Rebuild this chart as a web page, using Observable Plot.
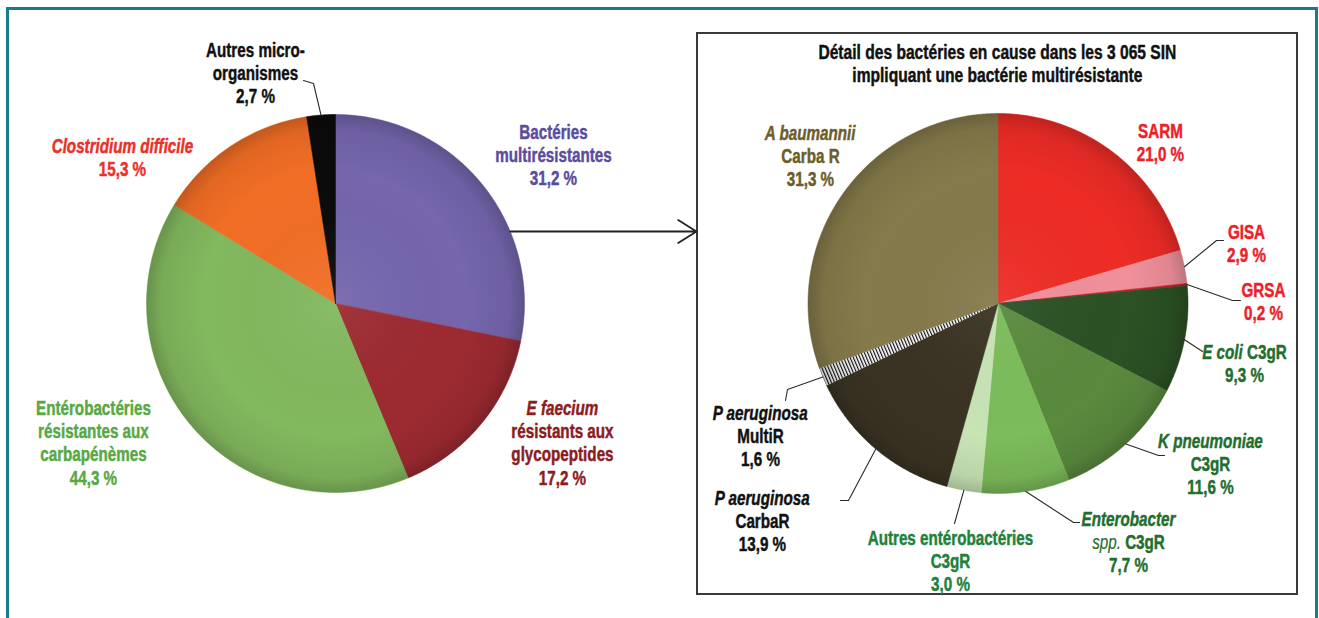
<!DOCTYPE html>
<html><head><meta charset="utf-8">
<script src="https://cdn.jsdelivr.net/npm/d3@7"></script>
<script src="https://cdn.jsdelivr.net/npm/@observablehq/plot@0.6"></script>
<style>
html,body{margin:0;padding:0;background:#fff;overflow:hidden;}
#wrap{position:relative;width:1319px;height:618px;overflow:hidden;}
#outer{position:absolute;left:6px;top:7px;width:1312px;height:700px;border:3px solid #1a7a8c;box-sizing:border-box;}
#box{position:absolute;left:696px;top:32px;width:602px;height:563px;border:2px solid #3a3a3a;box-sizing:border-box;}
#wrap svg{position:absolute;left:0;top:0;}
</style></head><body><div id="wrap"><div id="outer"></div><div id="box"></div></div>
<script>
// ---------- DATA ----------
const leftCategories = ["Bactéries multirésistantes", "E faecium résistants aux glycopeptides", "Entérobactéries résistantes aux carbapénèmes", "Clostridium difficile", "Autres micro-organismes"];
const leftValues = [31.2, 17.2, 44.3, 15.3, 2.7];
const leftColors = ["#7566ad", "#9d2a31", "#82b85e", "#f26e25", "#0b0b0b"];
const leftLabelColors = ["#5a4c9f", "#8c1b22", "#57a845", "#ec2f27", "#111111"];
const leftLabelLines = [["Bactéries", "multirésistantes"], ["*E faecium*", "résistants aux", "glycopeptides"], ["Entérobactéries", "résistantes aux", "carbapénèmes"], ["*Clostridium difficile*"], ["Autres micro-", "organismes"]];

const rightCategories = ["SARM", "GISA", "GRSA", "E coli C3gR", "K pneumoniae C3gR", "Enterobacter spp. C3gR", "Autres entérobactéries C3gR", "P aeruginosa CarbaR", "P aeruginosa MultiR", "A baumannii Carba R"];
const rightValues = [21.0, 2.9, 0.2, 9.3, 11.6, 7.7, 3.0, 13.9, 1.6, 31.3];
const rightColors = ["#ee2c26", "#f0909b", "#c2202b", "#2b5124", "#5a8a3e", "#7cbc5a", "#c8e4b5", "#3a3323", "url(#hatch)", "#857a4b"];
const rightLabelColors = ["#ec2028", "#ec2028", "#ec2028", "#1f6e2e", "#1f6e2e", "#1f6e2e", "#22803a", "#111111", "#111111", "#6b5e29"];
const rightLabelLines = [["SARM"], ["GISA"], ["GRSA"], ["*E coli* C3gR"], ["*K pneumoniae*", "C3gR"], ["*Enterobacter*", "_spp._ C3gR"], ["Autres entérobactéries", "C3gR"], ["*P aeruginosa*", "CarbaR"], ["*P aeruginosa*", "MultiR"], ["*A baumannii*", "Carba R"]];
const titleLines = ["Détail des bactéries en cause dans les 3 065 SIN", "impliquant une bactérie multirésistante"];

// ---------- LAYOUT ----------
const W = 1319, H = 618;
const PIE_L = {cx: 335, cy: 303, r: 189};
const PIE_R = {cx: 997.5, cy: 303, r: 190};
const leftLabelPos = [[553, 132], [562, 408], [93, 408], [122, 146], [255, 50]];
const rightLabelPos = [[1160, 131], [1246, 232], [1263, 290], [1244, 352], [1210, 441], [1128, 519], [950, 538], [762, 498], [760, 413], [810, 133]];
const titlePos = [997, 52];
const leftLeaders = [{slice: 4, pts: [[313, 83], [303, 80]]}];
const rightLeaders = [
  {slice: 1, pts: [[1216, 240], [1223, 240]]},
  {slice: 2, pts: [[1232, 300], [1240, 300]]},
  {slice: 3, pts: [[1202, 351]]},
  {slice: 4, pts: [[1158, 455], [1164, 455]]},
  {slice: 5, pts: [[1073, 522], [1079, 522]]},
  {slice: 6, pts: [[954, 523]]},
  {slice: 7, pts: [[848, 500], [840, 500]]},
  {slice: 8, pts: [[787, 389], [785, 400]]}
];
const ARROW_Y = 231, BOX_LEFT = 696;
const LH = 23.3, FS = 19.5, TFS = 20, SX = 0.78;
const FONT = "'Liberation Sans',Arial,sans-serif";

// ---------- HELPERS ----------
const fmtPct = v => d3.format(".1f")(v).replace(".", ",") + " %";
const ctx = document.createElement("canvas").getContext("2d");
function measure(t, style, size) {
  const st = style === "n" ? "normal 700" : style === "i" ? "italic 700" : "italic 400";
  ctx.font = `${st} ${size}px ${FONT}`;
  return ctx.measureText(t).width * SX;
}
function wedges(pie, vals, cols, key) {
  const total = d3.sum(vals);
  let acc = 0; const rows = [], mids = [];
  vals.forEach((v, i) => {
    const a0 = acc / total * 2 * Math.PI; acc += v; const a1 = acc / total * 2 * Math.PI;
    mids.push((a0 + a1) / 2);
    const n = Math.max(2, Math.ceil((a1 - a0) / (Math.PI / 360)));
    const id = key + i;
    rows.push({id, x: pie.cx, y: pie.cy, fill: cols[i]});
    for (let k = 0; k <= n; k++) {
      const a = a0 + (a1 - a0) * k / n;
      rows.push({id, x: pie.cx + pie.r * Math.sin(a), y: pie.cy - pie.r * Math.cos(a), fill: cols[i]});
    }
    rows.push({id, x: pie.cx, y: pie.cy, fill: cols[i]});
  });
  return {rows, mids};
}
function layoutLines(lines, cx, y0, color, size, out) {
  lines.forEach((line, j) => {
    const y = y0 + j * LH;
    const toks = line.split(/(\*[^*]+\*|_[^_]+_)/).filter(s => s.length);
    const segs = toks.map(t => t.startsWith("*") ? {t: t.slice(1, -1), s: "i"} : t.startsWith("_") ? {t: t.slice(1, -1), s: "l"} : {t, s: "n"});
    const total = d3.sum(segs, g => measure(g.t, g.s, size));
    let x = cx - total / 2;
    segs.forEach(g => {
      const lead = g.t.match(/^\s*/)[0];
      out.push({x: x + measure(lead, g.s, size), y, text: g.t.trim(), s: g.s, fill: color, size});
      x += measure(g.t, g.s, size);
    });
  });
}
function leaders(pie, mids, defs, key) {
  const rows = [];
  defs.forEach((d, i) => {
    const a = mids[d.slice];
    rows.push({id: key + i, x: pie.cx + pie.r * Math.sin(a), y: pie.cy - pie.r * Math.cos(a)});
    d.pts.forEach(p => rows.push({id: key + i, x: p[0], y: p[1]}));
  });
  return rows;
}

// ---------- BUILD ----------
const WL = wedges(PIE_L, leftValues, leftColors, "L");
const WR = wedges(PIE_R, rightValues, rightColors, "R");
const texts = [];
leftCategories.forEach((c, i) => layoutLines([...leftLabelLines[i], fmtPct(leftValues[i])], leftLabelPos[i][0], leftLabelPos[i][1], leftLabelColors[i], FS, texts));
rightCategories.forEach((c, i) => layoutLines([...rightLabelLines[i], fmtPct(rightValues[i])], rightLabelPos[i][0], rightLabelPos[i][1], rightLabelColors[i], FS, texts));
layoutLines(titleLines, titlePos[0], titlePos[1], "#111111", TFS, texts);
const leaderRows = [...leaders(PIE_L, WL.mids, leftLeaders, "l"), ...leaders(PIE_R, WR.mids, rightLeaders, "r")];
const arrowStart = PIE_L.cx + Math.sqrt(PIE_L.r ** 2 - (ARROW_Y - PIE_L.cy) ** 2);

const textMark = (s, style, weight, sw) => Plot.text(texts.filter(d => d.s === s), {
  x: "x", y: "y", text: "text", fill: "fill", stroke: "fill", strokeWidth: sw, fontSize: "size", textAnchor: "start", lineAnchor: "middle",
  fontFamily: FONT, fontWeight: weight, fontStyle: style, className: "lbl"
});

const svg = Plot.plot({
  width: W, height: H, margin: 0,
  style: "background:transparent;overflow:visible",
  x: {domain: [0, W], range: [0, W], axis: null},
  y: {domain: [0, H], range: [0, H], axis: null},
  color: {type: "identity"},
  marks: [
    Plot.line([...WL.rows, ...WR.rows], {x: "x", y: "y", z: "id", fill: "fill", stroke: d => d.fill.startsWith("url") ? "none" : d.fill, strokeWidth: 0.6}),
    Plot.dot([PIE_L], {x: "cx", y: "cy", r: PIE_L.r, fill: "url(#rim)"}),
    Plot.dot([PIE_R], {x: "cx", y: "cy", r: PIE_R.r, fill: "url(#rim)"}),
    Plot.line(leaderRows, {x: "x", y: "y", z: "id", stroke: "#2a2a2a", strokeWidth: 1.1}),
    Plot.arrow([{x1: arrowStart, x2: BOX_LEFT, y: ARROW_Y}], {x1: "x1", x2: "x2", y1: "y", y2: "y", stroke: "#222", strokeWidth: 1.8, headLength: 18, headAngle: 64}),
    textMark("n", "normal", 700, 0.45),
    textMark("i", "italic", 700, 0.45),
    textMark("l", "italic", 400, 0.2)
  ]
});

// condense the glyphs horizontally (narrow face), keeping each anchor
d3.select(svg).selectAll("g.lbl text, g[aria-label=text] text").each(function () {
  const t = this.getAttribute("transform");
  if (t && t.includes("translate")) this.setAttribute("transform", t + ` scale(${SX},1)`);
  else {
    const x = +this.getAttribute("x") || 0, y = +this.getAttribute("y") || 0;
    this.removeAttribute("x"); this.removeAttribute("y");
    this.setAttribute("transform", `translate(${x},${y}) scale(${SX},1)`);
  }
});

const defs = d3.select(svg).insert("defs", ":first-child");
const pat = defs.append("pattern").attr("id", "hatch").attr("patternUnits", "userSpaceOnUse")
  .attr("width", 3).attr("height", 3).attr("patternTransform", "rotate(-23)");
pat.append("rect").attr("width", 3).attr("height", 3).attr("fill", "#fff");
pat.append("rect").attr("width", 1.2).attr("height", 3).attr("fill", "#111");
const rg = defs.append("radialGradient").attr("id", "rim").attr("cx", "50%").attr("cy", "50%").attr("r", "50%");
[[0, "#fff", 0.06], [0.7, "#000", 0], [0.92, "#000", 0.07], [1, "#000", 0.2]].forEach(([o, c, a]) =>
  rg.append("stop").attr("offset", o).attr("stop-color", c).attr("stop-opacity", a));

document.getElementById("wrap").appendChild(svg);
</script></body></html>
